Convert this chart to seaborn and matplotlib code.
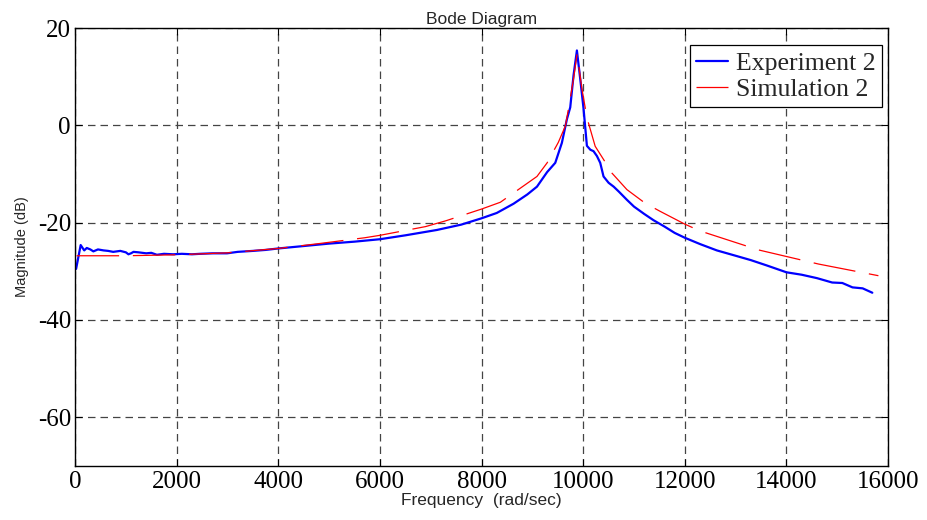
import matplotlib
matplotlib.use("Agg")
import matplotlib.pyplot as plt
import seaborn as sns
import pandas as pd

# Measured response (experiment 2)
exp_freq = [20, 110, 180, 230, 300, 360, 450, 560, 650, 750, 890, 1000, 1050, 1100,
            1150, 1250, 1400, 1500, 1610, 1750, 1930, 2100, 2300, 2460, 2700, 2990,
            3200, 3500, 3750, 4000, 4500, 5000, 5500, 6000, 6500, 7120, 7600, 8000,
            8300, 8630, 8900, 9090, 9290, 9450, 9580, 9680, 9745, 9810, 9876, 9941,
            10007, 10073, 10140, 10203, 10270, 10335, 10400, 10500, 10600, 10700,
            10860, 11000, 11200, 11385, 11600, 11800, 12000, 12300, 12630, 13000,
            13300, 13615, 14000, 14300, 14600, 14900, 15100, 15300, 15500, 15690]
exp_mag = [-29.5, -24.6, -25.7, -25.2, -25.5, -25.9, -25.5, -25.7, -25.8, -26.0, -25.8,
           -26.1, -26.5, -26.3, -26.0, -26.1, -26.3, -26.2, -26.6, -26.4, -26.5, -26.4,
           -26.5, -26.4, -26.3, -26.3, -26.0, -25.8, -25.6, -25.3, -24.8, -24.3, -23.9,
           -23.4, -22.6, -21.5, -20.4, -19.1, -18.0, -16.1, -14.2, -12.6, -9.6, -7.7,
           -3.6, 1.3, 3.7, 10.3, 15.4, 9.6, 3.4, -4.2, -5.0, -5.3, -6.3, -7.7, -10.5,
           -11.8, -12.6, -13.6, -15.3, -16.7, -18.2, -19.5, -20.8, -22.1, -23.1, -24.4,
           -25.7, -26.8, -27.7, -28.8, -30.2, -30.7, -31.4, -32.3, -32.4, -33.3, -33.5,
           -34.4]

# Model response (simulation 2)
sim_freq = [30, 500, 1000, 2000, 3000, 4000, 4800, 5700, 6000, 6900, 7300, 8000, 8370,
            9090, 9290, 9510, 9650, 9710, 9810, 9880, 9975, 10073, 10236, 10400, 10565,
            10860, 11220, 11520, 12000, 12300, 13450, 14630, 15810]
sim_mag = [-26.8, -26.8, -26.8, -26.6, -26.2, -25.3, -24.3, -23.1, -22.6, -20.8, -19.6,
           -17.2, -15.8, -10.5, -7.7, -3.5, -0.1, 3.4, 9.6, 14.7, 7.5, 1.6, -4.3, -7.0,
           -9.8, -13.2, -16.0, -17.7, -20.3, -21.7, -25.6, -28.5, -30.9]

x_ticks = list(range(0, 16001, 2000))
y_ticks = [-60, -40, -20, 0, 20]

sns.set_style("white")
plt.rcParams["font.family"] = ["Liberation Sans", "DejaVu Sans"]

fig = plt.figure(figsize=(9.27, 5.2), dpi=100)
ax = fig.add_axes([0.081, 0.104, 0.877, 0.842])

exp_df = pd.DataFrame({"freq": exp_freq, "mag": exp_mag})
sim_df = pd.DataFrame({"freq": sim_freq, "mag": sim_mag})

sns.lineplot(data=exp_df, x="freq", y="mag", ax=ax, color="#0000ff", lw=1.6,
             sort=False, label="Experiment 2")
sns.lineplot(data=sim_df, x="freq", y="mag", ax=ax, color="#ff0000", lw=0.9,
             sort=False, label="Simulation 2", dashes=False)
ax.lines[1].set_linestyle((0, (34, 11)))

ax.set_xlim(0, 16000)
ax.set_ylim(-70, 20)
ax.set_xticks(x_ticks)
ax.set_yticks(y_ticks)
ax.set_xticklabels([str(t) for t in x_ticks], family="Liberation Serif", fontsize=18)
ax.set_yticklabels([str(t) for t in y_ticks], family="Liberation Serif", fontsize=18)
ax.tick_params(direction="in", length=5, width=0.8, top=True, right=True,
               bottom=True, left=True, colors="black")
ax.tick_params(axis="x", pad=4)
ax.tick_params(axis="y", pad=3)

ax.grid(True, color="#444444", linestyle=(0, (6, 4)), linewidth=0.9)
for s in ax.spines.values():
    s.set_color("black")
    s.set_linewidth(1.0)

ax.set_xlabel("Frequency  (rad/sec)", fontsize=12.5, labelpad=0)
ax.set_ylabel("Magnitude (dB)", fontsize=10.5, labelpad=6)
ax.set_title("Bode Diagram", fontsize=12.5, pad=3)

leg = ax.legend(loc="upper right", bbox_to_anchor=(0.9926, 0.961),
                prop={"family": "Liberation Serif", "size": 18.5},
                frameon=True, fancybox=False, framealpha=1, edgecolor="black",
                handlelength=1.25, handletextpad=0.3, borderpad=0.25,
                labelspacing=0.12, borderaxespad=0)
leg.get_frame().set_linewidth(0.9)

fig.savefig("out.png", dpi=100)
